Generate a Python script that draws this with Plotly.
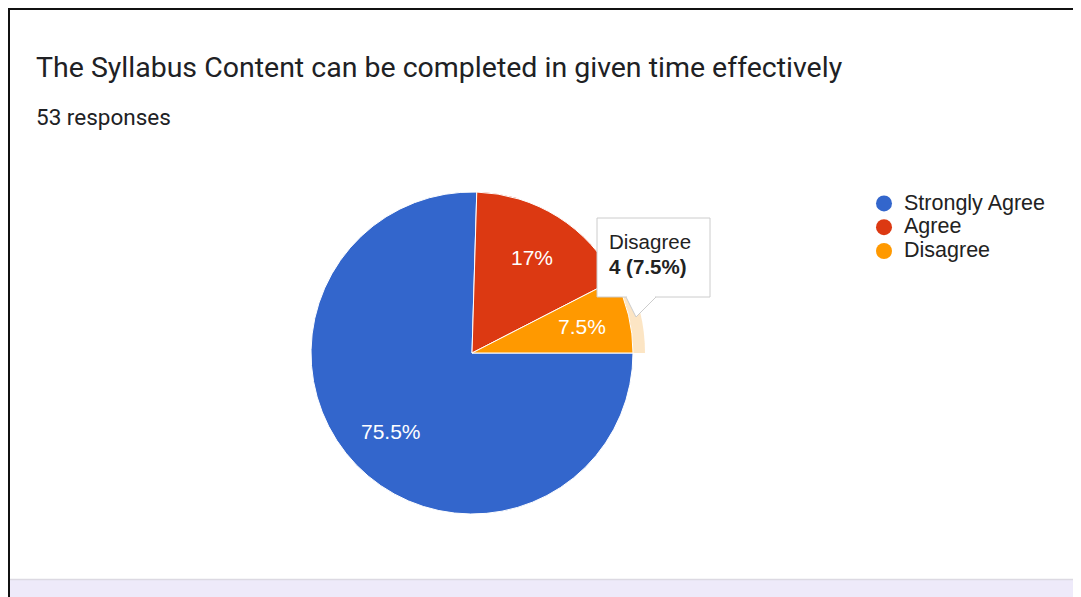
import math
import plotly.graph_objects as go

# The page body adds an 8px margin, so the figure covers page pixels 8..1081 x 8..597
OFF = 8
W, H = 1081 - OFF, 597 - OFF

title_text = "The Syllabus Content can be completed in given time effectively"
subtitle_text = "53 responses"
categories = ["Strongly Agree", "Agree", "Disagree"]
counts = [40, 9, 4]
colors = ["#3366cc", "#dc3912", "#ff9900"]
highlight_color = "rgba(245,170,60,0.30)"
hover_index = 2

total = sum(counts)


def fmt_pct(v):
    p = round(100.0 * v / total, 1)
    s = f"{p:.1f}"
    if s.endswith(".0"):
        s = s[:-2]
    return s + "%"


labels_pct = [fmt_pct(v) for v in counts]


def px(x):
    return (x - OFF) / W


def py(y):
    return 1 - (y - OFF) / H


# pie geometry (page pixels)
cx, cy, r = 472, 353, 161
ring = 12
start_deg = 90  # first slice starts at 3 o'clock, clockwise
label_frac = 0.70

fig = go.Figure()

# hover highlight ring (behind)
ring_colors = ["rgba(0,0,0,0)"] * len(counts)
ring_colors[hover_index] = highlight_color
fig.add_trace(go.Pie(
    labels=categories, values=counts, sort=False, direction="clockwise", rotation=start_deg,
    marker=dict(colors=ring_colors, line=dict(width=0)),
    textinfo="none", hoverinfo="skip", showlegend=False,
    domain=dict(x=[px(cx - r - ring), px(cx + r + ring)], y=[py(cy + r + ring), py(cy - r - ring)]),
))

fig.add_trace(go.Pie(
    labels=categories, values=counts, sort=False, direction="clockwise", rotation=start_deg,
    marker=dict(colors=colors, line=dict(color="white", width=1)),
    textinfo="none", showlegend=False,
    domain=dict(x=[px(cx - r), px(cx + r)], y=[py(cy + r), py(cy - r)]),
))

# legend entries with circle markers
for name, col in zip(categories, colors):
    fig.add_trace(go.Scatter(
        x=[None], y=[None], mode="markers",
        name=f'<span style="font-size:21.5px">{name}</span>',
        marker=dict(symbol="circle", size=16, color=col),
    ))

annotations = []

# slice percentage labels along each slice's bisector
cum = 0
for v, lab in zip(counts, labels_pct):
    mid = math.radians(start_deg + 360.0 * (cum + v / 2.0) / total)
    lx = cx + label_frac * r * math.sin(mid)
    ly = cy - label_frac * r * math.cos(mid)
    annotations.append(dict(
        text=lab, xref="paper", yref="paper", x=px(lx), y=py(ly),
        xanchor="center", yanchor="middle", showarrow=False,
        font=dict(family="Liberation Sans, Arial", size=21, color="white"),
    ))
    cum += v

# tooltip
bx0, by0, bx1, by1 = 597, 218, 710, 297
shapes = [
    # border lines
    dict(type="line", xref="paper", yref="paper", x0=px(8), x1=1, y0=py(9), y1=py(9),
         line=dict(color="#111111", width=2)),
    dict(type="line", xref="paper", yref="paper", x0=px(9), x1=px(9), y0=py(8), y1=0,
         line=dict(color="#111111", width=2)),
    # bottom lavender strip
    dict(type="rect", xref="paper", yref="paper", x0=px(10), x1=1, y0=0, y1=py(580),
         fillcolor="#eeeafa", line=dict(width=0), layer="above"),
    dict(type="line", xref="paper", yref="paper", x0=px(10), x1=1, y0=py(579.5), y1=py(579.5),
         line=dict(color="#dcd9e2", width=1.5)),
    # tooltip box
    dict(type="rect", xref="paper", yref="paper", x0=px(bx0), x1=px(bx1), y0=py(by1), y1=py(by0),
         fillcolor="white", line=dict(color="#cccccc", width=1), layer="above"),
    # tooltip pointer
    dict(type="path", xref="paper", yref="paper", layer="above",
         path=f"M {px(626)},{py(by1)} L {px(636)},{py(317)} L {px(656)},{py(by1)}",
         fillcolor="white", line=dict(color="#cccccc", width=1)),
    dict(type="line", xref="paper", yref="paper", layer="above",
         x0=px(627), x1=px(655), y0=py(by1), y1=py(by1),
         line=dict(color="white", width=2)),
]

annotations += [
    dict(text=title_text, xref="paper", yref="paper", x=px(34), y=py(68), xanchor="left",
         yanchor="middle", showarrow=False,
         font=dict(family="Roboto", size=28.5, color="#202124")),
    dict(text=subtitle_text, xref="paper", yref="paper", x=px(34), y=py(117), xanchor="left",
         yanchor="middle", showarrow=False,
         font=dict(family="Roboto", size=22.5, color="#202124")),
    dict(text=categories[hover_index], xref="paper", yref="paper", x=px(607), y=py(242),
         xanchor="left", yanchor="middle", showarrow=False,
         font=dict(family="Liberation Sans, Arial", size=20.5, color="#222222")),
    dict(text=f"<b>{counts[hover_index]} ({labels_pct[hover_index]})</b>", xref="paper", yref="paper",
         x=px(607), y=py(266), xanchor="left", yanchor="middle", showarrow=False,
         font=dict(family="Liberation Sans, Arial", size=20.5, color="#222222")),
]

fig.update_layout(
    width=W, height=H,
    margin=dict(l=0, r=0, t=0, b=0),
    paper_bgcolor="white", plot_bgcolor="white",
    xaxis=dict(visible=False), yaxis=dict(visible=False),
    showlegend=True,
    legend=dict(x=px(864), y=py(186.5), xanchor="left", yanchor="top",
                font=dict(family="Liberation Sans, Arial", size=16, color="#222222"),
                bgcolor="rgba(0,0,0,0)", tracegroupgap=0, itemclick=False),
    shapes=shapes,
    annotations=annotations,
)

fig.write_html("out.html")
